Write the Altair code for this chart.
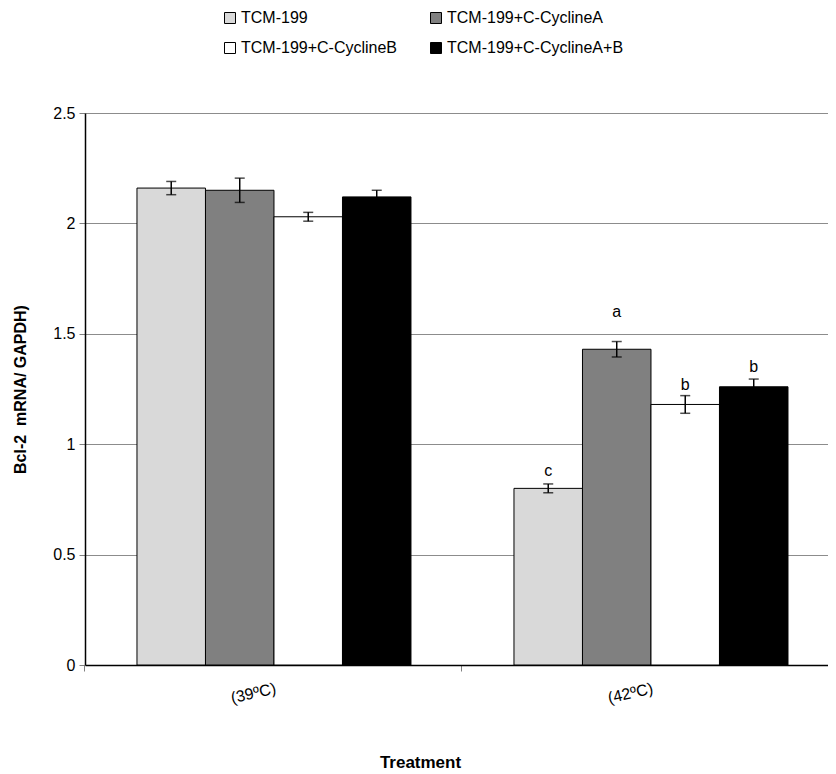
import altair as alt
import pandas as pd

temperatures = ["(39ºC)", "(42ºC)"]
series = ["TCM-199", "TCM-199+C-CyclineA", "TCM-199+C-CyclineB", "TCM-199+C-CyclineA+B"]
colors = ["#d9d9d9", "#808080", "#ffffff", "#000000"]
means_39 = [2.16, 2.15, 2.03, 2.12]
errors_39 = [0.03, 0.055, 0.02, 0.03]
means_42 = [0.80, 1.43, 1.18, 1.26]
errors_42 = [0.02, 0.035, 0.04, 0.035]
letters_42 = ["c", "a", "b", "b"]
letter_heights_42 = [0.88, 1.60, 1.27, 1.35]
y_ticks = [0, 0.5, 1, 1.5, 2, 2.5]

rows = []
for t, ms, es in [(temperatures[0], means_39, errors_39), (temperatures[1], means_42, errors_42)]:
    for s, m, e in zip(series, ms, es):
        rows.append({"temp": t, "series": s, "mean": m, "lo": m - e, "hi": m + e})
df = pd.DataFrame(rows)

lab = pd.DataFrame({"temp": [temperatures[1]] * 4, "series": series,
                    "letter": letters_42, "h": letter_heights_42})

FONT = "Liberation Sans"

x_enc = alt.X("temp:N", sort=temperatures,
              scale=alt.Scale(paddingInner=0.2732, paddingOuter=0.122, align=0.565),
              axis=alt.Axis(title="Treatment", titleFontSize=17, titleFontWeight="bold",
                            titleFont=FONT, titleX=335, titleY=97, titleBaseline="middle",
                            titleColor="black",
                            labelAngle=-13, labelAlign="right", labelBaseline="top",
                            labelFontSize=16, labelFont=FONT, labelColor="black",
                            labelPadding=9, bandPosition=-0.19,
                            domainColor="black", domainWidth=1.5,
                            tickColor="#808080", tickSize=6, grid=False))
xo_enc = alt.XOffset("series:N", sort=series, scale=alt.Scale(paddingInner=0, paddingOuter=0))

y_scale = alt.Scale(domain=[0, 2.5], nice=False)

bars = alt.Chart(df).mark_bar(stroke="black", strokeWidth=1).encode(
    x=x_enc, xOffset=xo_enc,
    y=alt.Y("mean:Q", scale=y_scale,
            axis=alt.Axis(values=y_ticks, format="~g", title="Bcl-2\u00a0\u00a0mRNA/ GAPDH)",
                          titleFontSize=16, titleFontWeight="bold", titleFont=FONT,
                          titleColor="black", titleAngle=270, titleX=-65, titleY=276,
                          titleAlign="center", titleBaseline="middle",
                          labelFontSize=16, labelFont=FONT, labelColor="black",
                          labelPadding=4, tickColor="#808080", tickSize=6,
                          domainColor="black", domainWidth=1.5,
                          grid=True, gridColor="#8c8c8c", gridWidth=1)),
    color=alt.Color("series:N", sort=series,
                    scale=alt.Scale(domain=series, range=colors),
                    legend=alt.Legend(title=None, orient="none", legendX=137, legendY=-103,
                                      direction="horizontal", columns=2, columnPadding=30,
                                      rowPadding=14, symbolType="square", symbolSize=121,
                                      symbolStrokeColor="black", symbolStrokeWidth=1,
                                      labelFontSize=16, labelFont=FONT, labelColor="black",
                                      labelOffset=3, labelLimit=0, padding=0)),
)

rules = alt.Chart(df).mark_rule(color="black", strokeWidth=1.5).encode(
    x=x_enc, xOffset=xo_enc, y=alt.Y("lo:Q", scale=y_scale), y2="hi:Q")
cap_hi = alt.Chart(df).mark_tick(color="black", thickness=1.5, size=10).encode(
    x=x_enc, xOffset=xo_enc, y=alt.Y("hi:Q", scale=y_scale))
cap_lo = alt.Chart(df).mark_tick(color="black", thickness=1.5, size=10).encode(
    x=x_enc, xOffset=xo_enc, y=alt.Y("lo:Q", scale=y_scale))
letters = alt.Chart(lab).mark_text(fontSize=16, font=FONT, color="black", baseline="middle").encode(
    x=x_enc, xOffset=xo_enc, y=alt.Y("h:Q", scale=y_scale), text="letter:N")

chart = alt.layer(bars, rules, cap_hi, cap_lo, letters).properties(
    width=743, height=552,
    autosize=alt.AutoSizeParams(type="none"),
    padding={"left": 77, "top": 105, "right": 0, "bottom": 108},
).configure_view(stroke=None).configure(font=FONT)

chart.save("out.html", embed_options={"renderer": "svg", "actions": False})
